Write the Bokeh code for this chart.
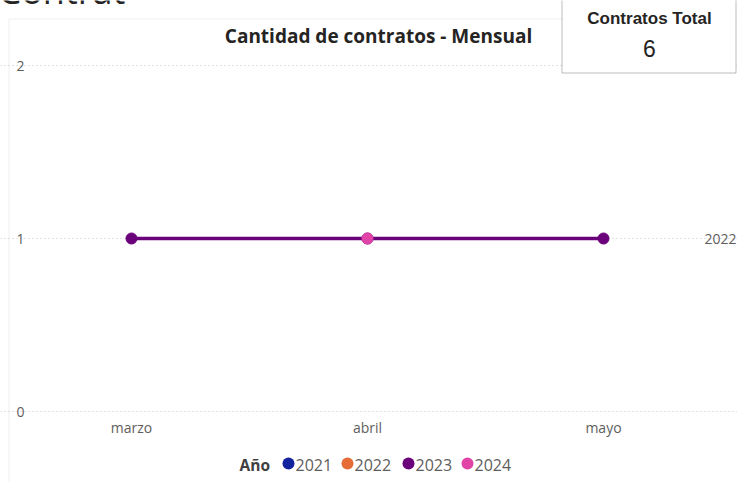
from bokeh.plotting import figure
from bokeh.models import Range1d, FixedTicker, Label, BoxAnnotation, ColumnDataSource
from bokeh.embed import file_html
from bokeh.resources import INLINE

# ---- data ----
months = ["marzo", "abril", "mayo"]
years = ["2021", "2022", "2023", "2024"]
year_colors = ["#12239E", "#E66C37", "#6B007B", "#E044A7"]
values_2021 = [None, None, None]
values_2022 = [None, None, None]
values_2023 = [1, 1, 1]
values_2024 = [None, 1, None]
y_ticks = [0, 1, 2]
series_label_text = "2022"
series_label_value = 1
title_text = "Cantidad de contratos - Mensual"
card_title = "Contratos Total"
card_value = "6"
legend_title = "Año"
page_header = "Contrat"

W, H = 737, 482
# layout: page-pixel position of the first category / zero line and spacing
X0_PX, X_STEP = 131, 236
Y0_PX, Y_STEP = 411, 173
PLOT_L, PLOT_R = 25, 695          # plotting-area edges (page px)
XAXIS_PY = 417
FONT = "Open Sans"
GRAY = "#605E5C"

def px2x(px):
    return (px - X0_PX) / X_STEP

def py2y(py):
    return (Y0_PX - py) / Y_STEP

p = figure(width=W, height=H, output_backend="svg", toolbar_location=None,
           x_range=Range1d(px2x(0), px2x(W)), y_range=Range1d(py2y(H), py2y(0)),
           min_border=0)
p.outline_line_color = None
p.background_fill_color = "white"
p.border_fill_color = "white"

# axes drawn at fixed positions inside the full-canvas frame
idx = list(range(len(months)))
p.xaxis.ticker = FixedTicker(ticks=idx)
p.xaxis.major_label_overrides = {i: m for i, m in enumerate(months)}
p.xaxis.fixed_location = py2y(XAXIS_PY)
p.yaxis.ticker = FixedTicker(ticks=y_ticks)
p.yaxis.fixed_location = px2x(PLOT_L)
for ax in (p.xaxis[0], p.yaxis[0]):
    ax.axis_line_color = None
    ax.major_tick_line_color = None
    ax.minor_tick_line_color = None
    ax.major_tick_out = 0
    ax.major_tick_in = 0
    ax.major_label_text_color = GRAY
    ax.major_label_text_font = FONT
    ax.major_label_text_font_size = "14px"
p.yaxis.major_label_standoff = 1
p.xaxis.major_label_standoff = 0
p.xgrid.grid_line_color = None
p.ygrid.grid_line_color = "#C8C6C4"
p.ygrid.grid_line_dash = "1 3"
p.ygrid.bounds = (px2x(PLOT_L), px2x(PLOT_R))

def clean(v):
    return [float("nan") if a is None else a for a in v]

series = [values_2021, values_2022, values_2023, values_2024]
for col, vals in zip(year_colors, series):
    src = ColumnDataSource(dict(x=idx, y=clean(vals)))
    p.line("x", "y", source=src, line_color=col, line_width=3.5)
for col, vals in zip(year_colors, series):
    src = ColumnDataSource(dict(x=idx, y=clean(vals)))
    p.scatter("x", "y", source=src, marker="circle", size=11, fill_color=col, line_color=col)

def fy(py):
    return H - py

# series label at right of the line
p.add_layout(Label(x=idx[-1], y=series_label_value, text=series_label_text, x_offset=101,
                   text_baseline="middle", text_align="left", text_color=GRAY,
                   text_font=FONT, text_font_size="14px"))

# outer visual border (left + top)
p.add_layout(BoxAnnotation(left=8.5, right=W + 30, top=fy(18.5), bottom=fy(H + 30),
                           left_units="screen", right_units="screen",
                           top_units="screen", bottom_units="screen",
                           fill_color=None, fill_alpha=0, line_color="#C8C6C4", line_width=1,
                           level="overlay"))

# partial page header at top-left (cut by the top edge, as in the reference)
p.add_layout(Label(x=-2, y=fy(-10), x_units="screen", y_units="screen", text=page_header,
                   text_align="left", text_baseline="alphabetic", text_color="#252423",
                   text_font=FONT, text_font_size="36px", level="overlay"))

# title
p.add_layout(Label(x=378, y=fy(35), x_units="screen", y_units="screen", text=title_text,
                   text_align="center", text_baseline="middle", text_color="#252423",
                   text_font=FONT, text_font_style="bold", text_font_size="19px",
                   level="overlay"))

# card
p.add_layout(BoxAnnotation(left=561.5, right=735.5, top=fy(-20), bottom=fy(72.5),
                           left_units="screen", right_units="screen",
                           top_units="screen", bottom_units="screen",
                           fill_color="white", fill_alpha=1, line_color="#252423", line_width=1,
                           level="overlay"))
p.add_layout(Label(x=649, y=fy(18), x_units="screen", y_units="screen", text=card_title,
                   text_align="center", text_baseline="middle", text_color="#252423",
                   text_font="Liberation Sans", text_font_style="bold", text_font_size="17px",
                   level="overlay"))
p.add_layout(Label(x=649, y=fy(48), x_units="screen", y_units="screen", text=card_value,
                   text_align="center", text_baseline="middle", text_color="#252423",
                   text_font="Liberation Sans", text_font_size="23px", level="overlay"))

# legend (manual: title + circle + label per year)
LEG_Y = 464
p.add_layout(Label(x=239, y=fy(LEG_Y), x_units="screen", y_units="screen", text=legend_title,
                   text_align="left", text_baseline="middle", text_color="#404040",
                   text_font=FONT, text_font_style="bold", text_font_size="15.5px",
                   level="overlay"))
marker_x = [288, 347, 408, 467]
for yr, col, mx in zip(years, year_colors, marker_x):
    p.add_layout(BoxAnnotation(left=mx - 6, right=mx + 6,
                               top=fy(LEG_Y - 7), bottom=fy(LEG_Y + 5),
                               left_units="screen", right_units="screen",
                               top_units="screen", bottom_units="screen",
                               fill_color=col, fill_alpha=1, line_color=None,
                               border_radius=6, level="overlay"))
    p.add_layout(Label(x=mx + 7, y=fy(LEG_Y), x_units="screen", y_units="screen", text=yr,
                       text_align="left", text_baseline="middle", text_color=GRAY,
                       text_font=FONT, text_font_size="16px", level="overlay"))

open("out.html", "w").write(file_html(p, INLINE))
